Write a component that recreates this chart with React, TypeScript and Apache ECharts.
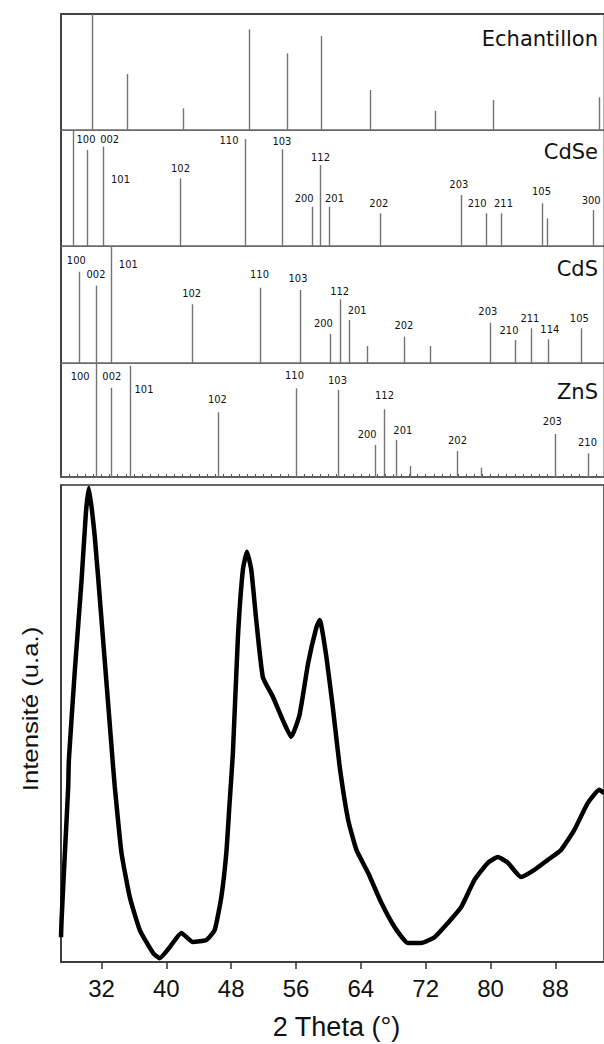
import React, { useEffect, useRef } from "react";
import * as echarts from "echarts";

// ---- axis range and tick labels (2 Theta, degrees) ----
const X_MIN = 27;
const X_MAX = 94;
const xTicks = [32, 40, 48, 56, 64, 72, 80, 88];

// ---- reference stick patterns (position in 2θ, relative intensity %) ----
const samplePos = [30.77, 35.2, 42.05, 50.18, 54.83, 59.05, 65.09, 73.14, 80.36, 93.42];
const sampleInt = [100, 48.3, 18.7, 86.8, 66.1, 81.0, 34.5, 16.6, 25.9, 28.2];

const cdseHkl = ["101", "100", "002", "102", "110", "103", "200", "112", "201", "202", "203", "210", "211", "105", "", "300"];
const cdsePos = [28.43, 30.23, 32.2, 41.68, 49.74, 54.25, 57.94, 58.98, 60.12, 66.41, 76.38, 79.46, 81.31, 86.36, 86.94, 92.68];
const cdseInt = [100, 82.8, 85.6, 58.4, 92.2, 83.4, 33.9, 69.8, 33.9, 28.2, 44.0, 28.2, 28.2, 36.8, 23.9, 31.0];

const cdsHkl = ["100", "002", "101", "102", "110", "103", "200", "112", "201", "", "202", "", "203", "210", "211", "114", "105"];
const cdsPos = [29.2, 31.26, 33.11, 43.16, 51.54, 56.55, 60.16, 61.39, 62.55, 64.77, 69.28, 72.48, 79.96, 83.0, 85.04, 87.06, 91.17];
const cdsInt = [78.0, 66.1, 100, 50.2, 64.4, 62.4, 24.8, 54.4, 36.8, 14.5, 22.5, 14.5, 34.4, 19.7, 29.7, 20.3, 29.7];

const znsHkl = ["100", "002", "101", "102", "110", "103", "200", "112", "201", "", "202", "", "203", "210"];
const znsPos = [31.33, 33.23, 35.57, 46.36, 56.02, 61.15, 65.75, 66.81, 68.38, 70.06, 75.89, 78.88, 87.93, 92.03];
const znsInt = [100, 78.3, 97.6, 56.8, 77.8, 76.3, 28.1, 59.4, 32.5, 9.6, 22.8, 8.2, 37.7, 20.8];

// ---- measured XRD pattern of the sample ----
const xrdTheta = [27.0, 27.07, 27.48, 27.89, 27.97, 28.71, 29.54, 30.07, 30.44, 31.17, 32.0, 32.81, 33.43, 33.64, 34.46, 35.49, 36.72, 38.36, 39.18, 40.41, 41.85, 43.28, 44.93, 45.96, 46.78, 47.4, 47.8, 48.21, 48.83, 49.44, 49.94, 50.48, 51.09, 51.91, 53.14, 54.37, 55.4, 56.43, 57.5, 58.52, 58.93, 59.75, 60.58, 61.39, 62.43, 63.45, 64.89, 66.53, 68.17, 69.82, 71.46, 73.09, 74.74, 76.38, 78.02, 79.67, 80.9, 82.14, 83.77, 85.41, 87.06, 88.7, 90.34, 91.99, 93.42, 94.0];
const xrdInt = [5.2, 8.8, 22.9, 36.7, 42.3, 61.2, 80.1, 94.1, 99.4, 89.1, 71.7, 54.3, 40.9, 36.7, 22.9, 13.6, 6.7, 1.9, 0.8, 3.1, 6.1, 4.2, 4.6, 6.7, 13.6, 22.9, 33.3, 43.8, 68.1, 82.2, 86.0, 82.2, 71.7, 59.7, 55.6, 50.7, 47.2, 51.8, 62.7, 70.2, 71.7, 63.9, 52.8, 40.9, 29.8, 23.5, 18.7, 12.4, 7.3, 4.0, 4.0, 5.2, 8.2, 11.5, 17.2, 20.8, 22.0, 20.8, 17.8, 19.3, 21.4, 23.5, 27.7, 33.3, 36.1, 35.4];

// ---- layout (pixels) ----
const GRID_LEFT = 61;
const GRID_WIDTH = 544;
const panelTops = [14, 130, 246, 363];
const panelHeights = [116, 116, 117, 114];
const nameY = [39.4, 152, 268.7, 392];
const NAME_RIGHT = 598;

// label offsets [dx, dy] relative to the top of each stick
const cdseLabelOff = [[47, 49], [-1.5, -10.7], [6.2, -7.4], [0, -9.3], [-16.5, 1.7], [-0.6, -7.6], [-8.3, -8.4], [0, -7.7], [5, -8.4], [-1.7, -9.3], [-2.7, -10], [-9.3, -10], [2, -10], [-1, -11.6], [0, 0], [-2.3, -10]];
const cdsLabelOff = [[-3.2, -11.7], [-0.5, -10.7], [16.8, 18], [-0.8, -11], [-1, -12.7], [-2.5, -11], [-7.1, -10.7], [-0.8, -8.3], [7.6, -9], [0, 0], [-0.6, -10.7], [0, 0], [-2.7, -11], [-6.5, -9.3], [-1.6, -9.3], [1.3, -10], [-2.2, -9.3]];
const znsLabelOff = [[-16.3, 13], [0.3, -11], [13.5, 23.6], [-1.1, -12.3], [-2, -12.6], [-1, -9.3], [-8.4, -10], [0, -13.3], [6.3, -9.3], [0, 0], [0, -11], [0, 0], [-3.2, -12.3], [-1, -11]];

const panels = [
  { name: "Echantillon", pos: samplePos, int: sampleInt, hkl: null as string[] | null, off: null as number[][] | null },
  { name: "CdSe", pos: cdsePos, int: cdseInt, hkl: cdseHkl, off: cdseLabelOff },
  { name: "CdS", pos: cdsPos, int: cdsInt, hkl: cdsHkl, off: cdsLabelOff },
  { name: "ZnS", pos: znsPos, int: znsInt, hkl: znsHkl, off: znsLabelOff },
];

const SMALL_FONT = '11px "DejaVu Sans Condensed", "DejaVu Sans", sans-serif';
const NAME_FONT = '21px "DejaVu Sans", sans-serif';
const AXIS_FONT = '"Liberation Sans", Arial, sans-serif';

function buildOption() {
  const grids: any[] = panels.map((_, i) => ({
    left: GRID_LEFT,
    width: GRID_WIDTH,
    top: panelTops[i],
    height: panelHeights[i],
    show: true,
    borderColor: "#6a6a6a",
    borderWidth: 1,
  }));
  grids.push({
    left: GRID_LEFT,
    width: GRID_WIDTH,
    top: 485,
    height: 477,
    show: true,
    borderColor: "#333",
    borderWidth: 1.5,
  });

  const xAxes: any[] = panels.map((_, i) => ({
    type: "value",
    gridIndex: i,
    min: X_MIN,
    max: X_MAX,
    interval: 1,
    axisLine: { show: true, onZero: false, lineStyle: { color: i === 3 ? "#444" : "#6a6a6a", width: i === 3 ? 1.5 : 1 } },
    axisTick: { show: i === 3, inside: true, length: 3, lineStyle: { color: "#555", width: 1 } },
    axisLabel: { show: false },
    splitLine: { show: false },
  }));
  xAxes.push({
    type: "value",
    gridIndex: 4,
    min: X_MIN,
    max: X_MAX,
    axisLine: { show: true, onZero: false, lineStyle: { color: "#333", width: 1.5 } },
    axisTick: { show: true, customValues: xTicks, length: 7, lineStyle: { color: "#333", width: 1.5 } },
    axisLabel: {
      show: true,
      customValues: xTicks,
      fontSize: 24,
      fontFamily: AXIS_FONT,
      color: "#111",
      margin: 14,
    },
    splitLine: { show: false },
  });
  // thicker top border of the stick-pattern block
  xAxes.push({
    type: "value",
    gridIndex: 0,
    position: "top",
    min: X_MIN,
    max: X_MAX,
    axisLine: { show: true, onZero: false, lineStyle: { color: "#444", width: 2 } },
    axisTick: { show: false },
    axisLabel: { show: false },
    splitLine: { show: false },
  });

  const yAxes: any[] = panels.map((_, i) => ({
    type: "value",
    gridIndex: i,
    min: 0,
    max: 100,
    axisLine: { show: true, onZero: false, lineStyle: { color: "#444", width: 2 } },
    axisTick: { show: false },
    axisLabel: { show: false },
    splitLine: { show: false },
  }));
  yAxes.push({
    type: "value",
    gridIndex: 4,
    min: 0,
    max: 100,
    axisLine: { show: true, onZero: false, lineStyle: { color: "#333", width: 1.5 } },
    axisTick: { show: false },
    axisLabel: { show: false },
    splitLine: { show: false },
  });

  const series: any[] = panels.map((p, i) => ({
    type: "custom",
    xAxisIndex: i,
    yAxisIndex: i,
    coordinateSystem: "cartesian2d",
    data: p.pos.map((v, k) => [v, p.int[k]]),
    renderItem: (params: any, api: any) => {
      const x = api.value(0);
      const h = api.value(1);
      const base = api.coord([x, 0]);
      const top = api.coord([x, h]);
      const px = Math.round(base[0]) + 0.5;
      const k = params.dataIndex;
      const children: any[] = [
        {
          type: "line",
          shape: { x1: px, y1: base[1], x2: px, y2: top[1] },
          style: { stroke: "#737373", lineWidth: 1.4 },
        },
      ];
      if (p.hkl && p.hkl[k]) {
        const off = p.off ? p.off[k] : [0, -10];
        children.push({
          type: "text",
          x: px + off[0],
          y: top[1] + off[1],
          style: {
            text: p.hkl[k],
            font: SMALL_FONT,
            fill: "#111",
            align: "center",
            verticalAlign: "middle",
          },
        });
      }
      return { type: "group", children };
    },
  }));

  series.push({
    type: "line",
    xAxisIndex: 4,
    yAxisIndex: 4,
    data: xrdTheta.map((t, k) => [t, xrdInt[k]]),
    showSymbol: false,
    smooth: 0.15,
    lineStyle: { color: "#000", width: 4.5 },
  });

  const graphic: any[] = panels.map((p, i) => ({
    type: "text",
    x: NAME_RIGHT,
    y: nameY[i],
    style: {
      text: p.name,
      font: NAME_FONT,
      fill: "#111",
      align: "right",
      verticalAlign: "middle",
    },
  }));
  graphic.push({
    type: "text",
    x: 336.5,
    y: 1027,
    style: {
      text: "2 Theta (°)",
      font: `27px ${AXIS_FONT}`,
      fill: "#111",
      align: "center",
      verticalAlign: "middle",
    },
  });
  graphic.push({
    type: "text",
    x: 30,
    y: 709,
    rotation: Math.PI / 2,
    scaleX: 1.17,
    scaleY: 1,
    style: {
      text: "Intensité (u.a.)",
      font: `22px ${AXIS_FONT}`,
      fill: "#111",
      align: "center",
      verticalAlign: "middle",
    },
  });

  return {
    animation: false,
    backgroundColor: "#fff",
    grid: grids,
    xAxis: xAxes,
    yAxis: yAxes,
    series,
    graphic,
  };
}

export default function App() {
  const ref = useRef<HTMLDivElement>(null);
  useEffect(() => {
    if (!ref.current) return;
    const chart = echarts.init(ref.current, undefined, { renderer: "svg" });
    chart.setOption(buildOption());
    return () => chart.dispose();
  }, []);
  return (
    <div
      ref={ref}
      style={{ position: "fixed", left: 0, top: 0, width: 604, height: 1044, background: "#fff" }}
    />
  );
}
